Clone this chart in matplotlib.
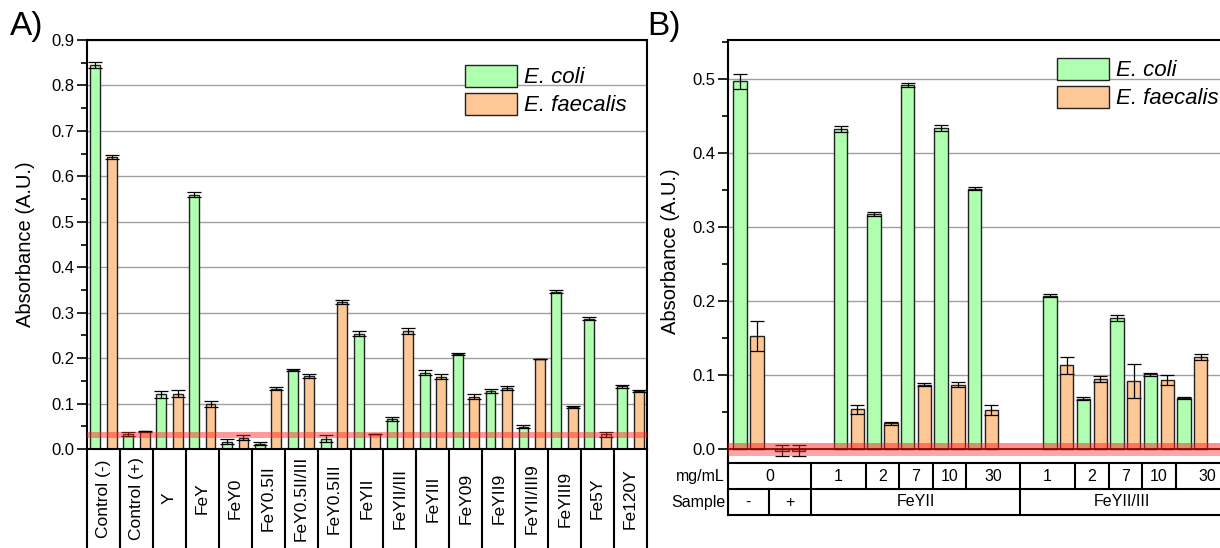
import numpy as np
import matplotlib
matplotlib.use('Agg')
import matplotlib.pyplot as plt
from matplotlib.ticker import MultipleLocator

plt.rcParams['font.family'] = ['Liberation Sans', 'DejaVu Sans']

# ---- data, panel A ----
samples_a = ['Control (-)', 'Control (+)', 'Y', 'FeY', 'FeY0', 'FeY0.5II', 'FeY0.5II/III',
             'FeY0.5III', 'FeYII', 'FeYII/III', 'FeYIII', 'FeY09', 'FeYII9', 'FeYII/III9',
             'FeYIII9', 'Fe5Y', 'Fe120Y']
ecoli_a = [0.845, 0.033, 0.120, 0.560, 0.016, 0.012, 0.174, 0.023, 0.254, 0.066,
           0.168, 0.209, 0.128, 0.049, 0.346, 0.287, 0.138]
ecoli_a_err = [0.007, 0.004, 0.008, 0.006, 0.006, 0.004, 0.003, 0.007, 0.006, 0.005,
               0.006, 0.002, 0.005, 0.003, 0.003, 0.003, 0.003]
faec_a = [0.642, 0.039, 0.122, 0.099, 0.025, 0.133, 0.161, 0.323, 0.033, 0.260,
          0.159, 0.115, 0.134, 0.198, 0.092, 0.032, 0.128]
faec_a_err = [0.004, 0.001, 0.007, 0.007, 0.006, 0.004, 0.004, 0.004, 0.001, 0.007,
              0.005, 0.005, 0.005, 0.001, 0.002, 0.006, 0.002]
threshold_a = 0.031

# ---- data, panel B ----
conc_b = ['0', '0', '1', '2', '7', '10', '30', '1', '2', '7', '10', '30']
sample_b = ['-', '+', 'FeYII', 'FeYII', 'FeYII', 'FeYII', 'FeYII',
            'FeYII/III', 'FeYII/III', 'FeYII/III', 'FeYII/III', 'FeYII/III']
ecoli_b = [0.497, -0.002, 0.433, 0.318, 0.492, 0.434, 0.352, 0.207, 0.068, 0.177, 0.101, 0.069]
ecoli_b_err = [0.010, 0.008, 0.004, 0.003, 0.003, 0.004, 0.002, 0.002, 0.002, 0.004, 0.002, 0.001]
faec_b = [0.153, -0.002, 0.054, 0.035, 0.087, 0.087, 0.053, 0.113, 0.095, 0.092, 0.093, 0.125]
faec_b_err = [0.020, 0.008, 0.006, 0.002, 0.002, 0.003, 0.007, 0.011, 0.004, 0.023, 0.007, 0.004]

green = '#b0ffb0'
orange = '#fdc896'
edge = '#222222'

fig = plt.figure(figsize=(12.2, 5.48), dpi=100)

# ================= panel A =================
ax1 = fig.add_axes([87 / 1220, 1 - 449 / 548, 560 / 1220, 409 / 548])
x = np.arange(len(samples_a))
b1 = ax1.bar(x - 0.25, ecoli_a, 0.3, color=green, edgecolor=edge, linewidth=1,
             yerr=ecoli_a_err, capsize=5, error_kw=dict(elinewidth=0.9, capthick=0.9), zorder=2,
             label='E. coli')
b2 = ax1.bar(x + 0.25, faec_a, 0.3, color=orange, edgecolor=edge, linewidth=1,
             yerr=faec_a_err, capsize=5, error_kw=dict(elinewidth=0.9, capthick=0.9), zorder=2,
             label='E. faecalis')
ax1.axhspan(threshold_a - 0.006, threshold_a + 0.006, color='#ff2020', alpha=0.45, lw=0, zorder=3)
ax1.set_xlim(-0.5, len(samples_a) - 0.5)
ax1.set_ylim(0, 0.9)
ax1.yaxis.set_major_locator(MultipleLocator(0.1))
ax1.yaxis.set_minor_locator(MultipleLocator(0.05))
ax1.yaxis.set_major_formatter(matplotlib.ticker.FormatStrFormatter('%.1f'))
ax1.tick_params(axis='y', which='major', length=7, width=1.2, labelsize=12, pad=2)
ax1.tick_params(axis='y', which='minor', length=4, width=1.2)
ax1.set_xticks([])
ax1.grid(axis='y', color='#a0a0a0', lw=1, zorder=0)
ax1.set_axisbelow(True)
for s in ax1.spines.values():
    s.set_linewidth(1.5)
ax1.set_ylabel('Absorbance (A.U.)', fontsize=14.5)
ax1.yaxis.set_label_coords(-0.092, 0.5)

# category boxes under panel A
tr = ax1.get_xaxis_transform()
low = -(548 - 449) / 409
for b in np.arange(-0.5, len(samples_a), 1.0):
    ax1.plot([b, b], [0, low - 0.01], transform=tr, color='black', lw=1.5, clip_on=False)
for i, name in enumerate(samples_a):
    ax1.text(i, -0.121, name, transform=tr, rotation=90, ha='center', va='center', fontsize=12.5)

leg_kw = dict(bbox_transform=fig.transFigure, loc='upper left', frameon=False, borderpad=0,
              handlelength=2.35, handleheight=1.12, labelspacing=0.2, handletextpad=0.3,
              prop={'style': 'italic', 'size': 16})
ax1.legend(handles=[b1, b2], bbox_to_anchor=(454 / 1220, 1 - 54 / 548), **leg_kw)

# ================= panel B =================
unit = 33.5
left_px, right_px = 727.7, 1240
ax2 = fig.add_axes([left_px / 1220, 1 - 463.3 / 548, (right_px - left_px) / 1220, 423.3 / 548])
pos = np.array([0, 1.25, 3, 4, 5, 6, 7, 9.25, 10.25, 11.25, 12.25, 13.25])
xl = -0.62
xr = xl + (right_px - left_px) / unit
c1 = ax2.bar(pos - 0.25, ecoli_b, 0.4, color=green, edgecolor=edge, linewidth=1,
             yerr=ecoli_b_err, capsize=5, error_kw=dict(elinewidth=0.9, capthick=0.9), zorder=2,
             label='E. coli')
c2 = ax2.bar(pos + 0.25, faec_b, 0.4, color=orange, edgecolor=edge, linewidth=1,
             yerr=faec_b_err, capsize=5, error_kw=dict(elinewidth=0.9, capthick=0.9), zorder=2,
             label='E. faecalis')
ax2.axhspan(-0.0095, 0.0085, color='#ff2020', alpha=0.4, lw=0, zorder=3)
ax2.axhspan(0, 0.0085, color='#ff2020', alpha=0.15, lw=0, zorder=3)
ax2.axhline(0, color='#8b0000', lw=1.2, zorder=4)
ax2.set_xlim(xl, xr)
ax2.set_ylim(-0.0193, 0.553)
ax2.yaxis.set_major_locator(MultipleLocator(0.1))
ax2.yaxis.set_minor_locator(MultipleLocator(0.05))
ax2.yaxis.set_major_formatter(matplotlib.ticker.FormatStrFormatter('%.1f'))
ax2.tick_params(axis='y', which='major', length=7, width=1.2, labelsize=12, pad=2)
ax2.tick_params(axis='y', which='minor', length=4, width=1.2)
ax2.set_xticks([])
ax2.grid(axis='y', color='#a0a0a0', lw=1, zorder=0)
ax2.set_axisbelow(True)
for s in ax2.spines.values():
    s.set_linewidth(1.5)
ax2.set_ylabel('Absorbance (A.U.)', fontsize=14.5)
ax2.yaxis.set_label_coords(-0.093, 0.5)

# table under panel B
tr2 = ax2.get_xaxis_transform()
row1 = -(489 - 463.3) / 423.3
row2 = -(515 - 463.3) / 423.3
conc_edges = [xl, 1.87, 3.5, 4.5, 5.5, 6.5, 8.1, 9.75, 10.75, 11.75, 12.75, xr]
conc_text = ['0', '1', '2', '7', '10', '30', '1', '2', '7', '10', '30']
samp_edges = [xl, 0.61, 1.87, 8.1, xr]
samp_text = ['-', '+', 'FeYII', 'FeYII/III']
for yy in [row1, row2]:
    ax2.plot([xl, xr], [yy, yy], transform=tr2, color='black', lw=1.5, clip_on=False)
ax2.plot([xl, xl], [0, row2], transform=tr2, color='black', lw=1.5, clip_on=False)
for e in conc_edges[1:-1]:
    ax2.plot([e, e], [0, row1], transform=tr2, color='black', lw=1.5, clip_on=False)
for e in samp_edges[1:-1]:
    ax2.plot([e, e], [row1, row2], transform=tr2, color='black', lw=1.5, clip_on=False)
for i, t in enumerate(conc_text):
    ax2.text((conc_edges[i] + conc_edges[i + 1]) / 2, row1 / 2, t, transform=tr2,
             ha='center', va='center', fontsize=11.5)
samp_mid = [(samp_edges[0] + samp_edges[1]) / 2, (samp_edges[1] + samp_edges[2]) / 2,
            (samp_edges[2] + samp_edges[3]) / 2, (samp_edges[3] + 14.2) / 2]
for m, t in zip(samp_mid, samp_text):
    ax2.text(m, (row1 + row2) / 2, t, transform=tr2, ha='center', va='center', fontsize=11.5)
ax2.text(-0.005, row1 / 2, 'mg/mL', transform=ax2.transAxes, ha='right', va='center', fontsize=11.5)
ax2.text(-0.005, (row1 + row2) / 2, 'Sample', transform=ax2.transAxes, ha='right', va='center',
         fontsize=11.5)

ax2.legend(handles=[c1, c2], bbox_to_anchor=(1046 / 1220, 1 - 47 / 548), **leg_kw)

fig.text(10 / 1220, 1 - 27 / 548, 'A)', fontsize=24, va='center', ha='left')
fig.text(647 / 1220, 1 - 27 / 548, 'B)', fontsize=24, va='center', ha='left')

fig.savefig('out.png', dpi=100)
